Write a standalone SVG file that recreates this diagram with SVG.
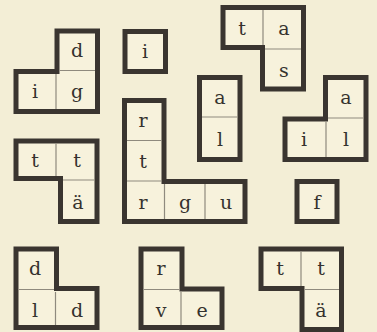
<svg xmlns="http://www.w3.org/2000/svg" width="377" height="332" viewBox="0 0 377 332">
<style>
.o{fill:#f7f2dc;stroke:#3a3530;stroke-width:5;stroke-linejoin:miter}
.d{stroke:#8f8a7e;stroke-width:1.2;fill:none}
.t{font-family:"DejaVu Serif","Liberation Serif",serif;font-size:19px;fill:#35322e;text-anchor:middle}
</style>
<rect width="377" height="332" fill="#f3eed6"/>
<g id="dig">
<path class="o" d="M16,71.5 H57 V31 H97.5 V111.5 H16 Z"/>
<path class="d" d="M56,74 V109 M59.5,70.5 H95"/>
<text class="t" x="77" y="57">d</text><text class="t" x="35" y="98">i</text><text class="t" x="77" y="98">g</text>
</g>
<g id="i1">
<rect class="o" x="125" y="31.5" width="40.5" height="40"/>
<text class="t" x="145" y="58">i</text>
</g>
<g id="tas">
<path class="o" d="M223,7.5 H303.5 V89 H262.5 V47.5 H223 Z"/>
<path class="d" d="M263,10 V45 M265,49 H301"/>
<text class="t" x="242" y="35">t</text><text class="t" x="284" y="35">a</text><text class="t" x="284" y="77">s</text>
</g>
<g id="al">
<rect class="o" x="199.5" y="77.5" width="40.5" height="82"/>
<path class="d" d="M202,117 H237.5"/>
<text class="t" x="220" y="104">a</text><text class="t" x="220" y="146">l</text>
</g>
<g id="ail">
<path class="o" d="M285,119 H325.5 V77.5 H366 V159.5 H285 Z"/>
<path class="d" d="M328,118 H363.5 M326,121.5 V157"/>
<text class="t" x="346" y="104">a</text><text class="t" x="304" y="146">i</text><text class="t" x="346" y="146">l</text>
</g>
<g id="rtrgu">
<path class="o" d="M124.5,100.5 H164 V181.5 H245 V221.5 H124.5 Z"/>
<path class="d" d="M127,140.5 H161.5 M127,181 H161.5 M164.5,184 V219 M205,184 V219"/>
<text class="t" x="143" y="127">r</text><text class="t" x="143" y="168">t</text><text class="t" x="143" y="209">r</text><text class="t" x="185" y="209">g</text><text class="t" x="226" y="209">u</text>
</g>
<g id="tta1">
<path class="o" d="M16,141 H97 V221.5 H60.5 V178.5 H16 Z"/>
<path class="d" d="M56,143.5 V176 M63,180 H94.5"/>
<text class="t" x="35" y="167">t</text><text class="t" x="77" y="167">t</text><text class="t" x="78" y="209">ä</text>
</g>
<g id="f">
<rect class="o" x="297" y="181.5" width="40" height="40"/>
<text class="t" x="317" y="209">f</text>
</g>
<g id="dld">
<path class="o" d="M16,249 H56.5 V288.5 H97 V327.5 H16 Z"/>
<path class="d" d="M18.5,289.5 H54 M55.5,292 V325"/>
<text class="t" x="35" y="275">d</text><text class="t" x="35" y="317">l</text><text class="t" x="77" y="317">d</text>
</g>
<g id="rve">
<path class="o" d="M141,249 H182 V289 H222 V327.5 H141 Z"/>
<path class="d" d="M143.5,289.5 H179.5 M181,292 V325"/>
<text class="t" x="161" y="275">r</text><text class="t" x="161" y="317">v</text><text class="t" x="202" y="317">e</text>
</g>
<g id="tta2">
<path class="o" d="M261,249 H341.5 V329.5 H302 V288.5 H261 Z"/>
<path class="d" d="M301,251.5 V286 M304.5,289.5 H339"/>
<text class="t" x="280" y="275">t</text><text class="t" x="321" y="275">t</text><text class="t" x="321" y="317">ä</text>
</g>
<g id="connectors"></g>
</svg>
